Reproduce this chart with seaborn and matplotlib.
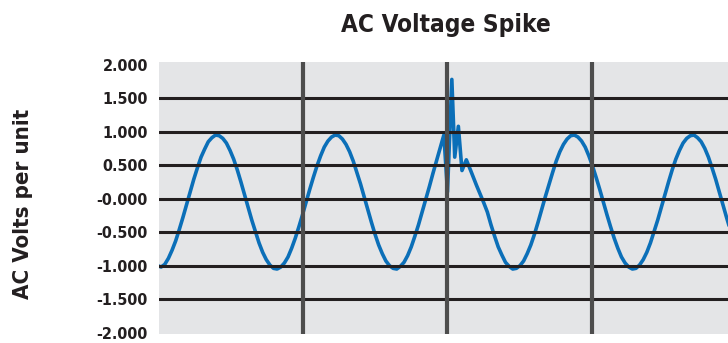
import matplotlib
matplotlib.use("Agg")
import matplotlib.pyplot as plt
import seaborn as sns

# time in ms and voltage in per-unit
time_ms = [0, 0.5, 1, 1.5, 2, 2.5, 3, 3.5, 4, 4.5, 5, 5.5, 6, 6.5, 7, 7.5, 8, 8.5, 9, 9.5,
           10, 10.5, 11, 11.5, 12, 12.5, 13, 13.5, 14, 14.5, 15, 15.5, 16, 16.5, 17, 17.5, 18, 18.5, 19, 19.5,
           20, 20.5, 21, 21.5, 22, 22.5, 23, 23.5, 24, 24.5, 25, 25.5, 26, 26.5, 27, 27.5, 28, 28.5, 29, 29.5,
           30, 30.5, 31, 31.5, 32, 32.5, 33, 33.5, 34, 34.5, 35, 35.5, 36, 36.5, 37, 37.5, 38, 38.5, 39,
           39.5, 40.0, 40.6, 41.0, 41.5, 42.0, 42.6, 43.2, 44, 45, 45.5,
           46, 46.5, 47, 47.5, 48, 48.5, 49, 49.5, 50, 50.5, 51, 51.5, 52, 52.5, 53, 53.5, 54, 54.5, 55, 55.5,
           56, 56.5, 57, 57.5, 58, 58.5, 59, 59.5, 60, 60.5, 61, 61.5, 62, 62.5, 63, 63.5, 64, 64.5, 65, 65.5,
           66, 66.5, 67, 67.5, 68, 68.5, 69, 69.5, 70, 70.5, 71, 71.5, 72, 72.5, 73, 73.5, 74, 74.5, 75, 75.5,
           76, 76.5, 77, 77.5, 78, 78.5, 79]
volts = [-1.00, -1.02, -0.98, -0.89, -0.77, -0.63, -0.46, -0.28, -0.09, 0.10, 0.29, 0.46, 0.62, 0.74, 0.85, 0.91, 0.95, 0.94, 0.90, 0.83,
         0.72, 0.59, 0.43, 0.25, 0.06, -0.13, -0.32, -0.49, -0.66, -0.80, -0.91, -0.99, -1.04, -1.05, -1.02, -0.96, -0.87, -0.74, -0.59, -0.42,
         -0.24, -0.05, 0.14, 0.32, 0.49, 0.64, 0.77, 0.86, 0.92, 0.95, 0.94, 0.89, 0.81, 0.70, 0.56, 0.39, 0.22, 0.03, -0.16, -0.35,
         -0.53, -0.69, -0.82, -0.93, -1.00, -1.04, -1.05, -1.01, -0.95, -0.85, -0.72, -0.56, -0.39, -0.20, -0.01, 0.18, 0.38, 0.57, 0.76,
         0.95, 0.10, 1.78, 0.62, 1.08, 0.42, 0.58, 0.42, 0.20, -0.06, -0.20,
         -0.39, -0.56, -0.72, -0.84, -0.95, -1.01, -1.05, -1.04, -1.00, -0.93, -0.82, -0.69, -0.53, -0.35, -0.16, 0.03, 0.21, 0.39, 0.56, 0.70,
         0.81, 0.89, 0.94, 0.95, 0.92, 0.86, 0.77, 0.64, 0.49, 0.32, 0.14, -0.05, -0.24, -0.42, -0.59, -0.74, -0.87, -0.96, -1.02, -1.05,
         -1.04, -0.99, -0.91, -0.80, -0.66, -0.49, -0.32, -0.13, 0.06, 0.25, 0.43, 0.59, 0.72, 0.83, 0.90, 0.94, 0.95, 0.91, 0.85, 0.75,
         0.62, 0.46, 0.29, 0.10, -0.09, -0.28, -0.46]

y_ticks = [2.0, 1.5, 1.0, 0.5, 0.0, -0.5, -1.0, -1.5, -2.0]
y_tick_labels = ["2.000", "1.500", "1.000", "0.500", "-0.000",
                 "-0.500", "-1.000", "-1.500", "-2.000"]
x_divisions = [20, 40, 60]

sns.set_style("white")
# condensed bold face, close to the original narrow font
plt.rcParams['font.family'] = ['DejaVu Sans']
plt.rcParams['font.stretch'] = 'condensed'

fig = plt.figure(figsize=(7.28, 3.43), dpi=100)
ax = fig.add_axes([159 / 728, 9 / 343, 569 / 728, 272 / 343])
ax.set_facecolor('#e4e5e7')

sns.lineplot(x=time_ms, y=volts, ax=ax, color='#0b6fb8', linewidth=2.6,
             sort=False, estimator=None, zorder=2)

# inner horizontal lines only, vertical division lines
for yv in y_ticks[1:-1]:
    ax.axhline(yv, color='#231f20', linewidth=2.2, zorder=3)
for xv in x_divisions:
    ax.axvline(xv, color='#4d4d4d', linewidth=3.0, zorder=3)

ax.set_xlim(0.2, 78.7)
ax.set_ylim(-2.02, 2.04)
ax.set_xticks([])
ax.set_yticks(y_ticks)
ax.set_yticklabels(y_tick_labels, fontsize=11.5, fontweight='bold', color='#231f20')
ax.tick_params(axis='y', length=0, pad=8)
for s in ax.spines.values():
    s.set_visible(False)
ax.set_xlabel('')
ax.set_ylabel('')

fig.text(446 / 728, 1 - 25 / 343, 'AC Voltage Spike', ha='center', va='center',
         fontsize=17.5, fontweight='bold', color='#231f20')
fig.text(23 / 728, 1 - 204 / 343, 'AC Volts per unit', ha='center', va='center',
         rotation=90, fontsize=16, fontweight='bold', color='#231f20')

fig.savefig('out.png', dpi=100)
